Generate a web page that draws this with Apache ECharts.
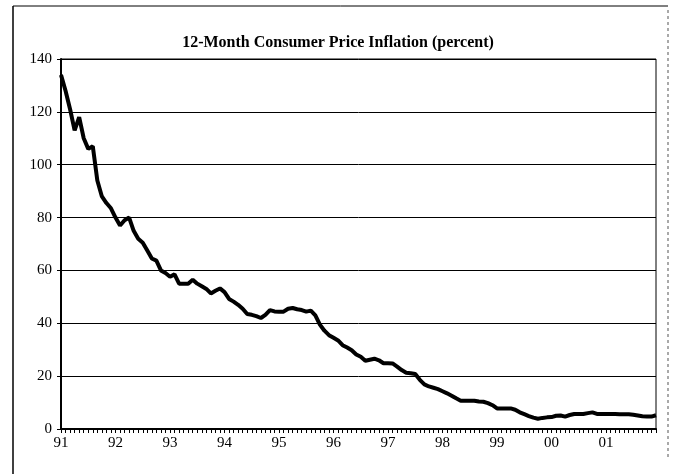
<!DOCTYPE html>
<html>
<head>
<meta charset="utf-8">
<script src="https://cdn.jsdelivr.net/npm/echarts@6/dist/echarts.min.js"></script>
<style>
  html, body { margin: 0; padding: 0; background: #fff; }
  #chart { width: 676px; height: 474px; }
</style>
</head>
<body>
<div id="chart"></div>
<script>
// year tick labels, one per January
var yearLabels = ['91', '92', '93', '94', '95', '96', '97', '98', '99', '00', '01'];
// 12-month CPI inflation, monthly Jan 1991 - Dec 2001 (percent)
var inflation = [
  134, 128, 121, 113, 118, 110, 106, 107, 94, 88, 85.5, 83.5,
  80, 77, 79, 80, 75, 72, 70.5, 67.5, 64.5, 63.7, 60, 59,
  57.6, 58.5, 55, 55, 55, 56.5, 55, 54, 53, 51.3, 52.3, 53.2,
  51.8, 49.2, 48.2, 47, 45.5, 43.5, 43.2, 42.7, 42, 43.2, 45, 44.5,
  44.4, 44.4, 45.5, 45.8, 45.3, 45, 44.4, 44.8, 43, 39.5, 37.2, 35.5,
  34.5, 33.5, 31.7, 30.8, 29.8, 28.2, 27.3, 25.8, 26.2, 26.6, 26, 24.9,
  24.9, 24.8, 23.6, 22.3, 21.3, 21.1, 20.8, 18.6, 16.9, 16.1, 15.6, 15.1,
  14.3, 13.5, 12.6, 11.6, 10.7, 10.7, 10.7, 10.7, 10.4, 10.3, 9.8, 9.0,
  7.8, 7.8, 7.8, 7.8, 7.3, 6.3, 5.6, 4.9, 4.3, 3.9, 4.2, 4.4,
  4.5, 5.0, 5.1, 4.7, 5.3, 5.7, 5.7, 5.7, 6.0, 6.3, 5.7, 5.7,
  5.7, 5.7, 5.7, 5.6, 5.6, 5.6, 5.4, 5.1, 4.8, 4.7, 4.7, 5.2
];

// one category per month, label only on January
var months = [];
for (var i = 0; i < inflation.length; i++) {
  months.push(i % 12 === 0 ? yearLabels[i / 12] : '');
}

var serif = '"Liberation Serif", "Times New Roman", serif';
var myChart = echarts.init(document.getElementById('chart'));
var option = {
  backgroundColor: '#fff',
  animation: false,
  title: {
    text: '12-Month Consumer Price Inflation (percent)',
    left: 'center',
    top: 30,
    textStyle: { fontFamily: serif, fontSize: 16, fontWeight: 'bold', color: '#000' }
  },
  grid: {
    left: 61, right: 20, top: 59, bottom: 45,
    show: true, borderColor: '#000', borderWidth: 1
  },
  xAxis: {
    type: 'category',
    data: months,
    boundaryGap: false,
    axisLine: { lineStyle: { color: '#000', width: 2 } },
    axisTick: { show: true, interval: 0, length: 4, lineStyle: { color: '#000' } },
    axisLabel: {
      interval: function (idx) { return idx % 12 === 0; },
      margin: 7,
      fontFamily: serif, fontSize: 15, color: '#000'
    },
    splitLine: { show: false }
  },
  yAxis: {
    type: 'value',
    min: 0, max: 140, interval: 20,
    axisLine: { show: true, lineStyle: { color: '#000', width: 2 } },
    axisTick: { show: true, length: 4, lineStyle: { color: '#000' } },
    axisLabel: { margin: 9, fontFamily: serif, fontSize: 15, color: '#000' },
    splitLine: { show: true, lineStyle: { color: '#000', width: 1 } }
  },
  series: [{
    name: 'CPI',
    type: 'line',
    data: inflation,
    showSymbol: false,
    smooth: false,
    lineStyle: { color: '#000', width: 4 }
  }],
  graphic: [
    { type: 'line', shape: { x1: 13, y1: 6, x2: 668, y2: 6 }, style: { stroke: '#000', lineWidth: 1 } },
    { type: 'line', shape: { x1: 13, y1: 6, x2: 13, y2: 474 }, style: { stroke: '#000', lineWidth: 1.5 } },
    { type: 'line', shape: { x1: 668, y1: 10, x2: 668, y2: 458 }, style: { stroke: '#555', lineWidth: 1, lineDash: [3, 3] } }
  ]
};
myChart.setOption(option);
</script>
</body>
</html>
